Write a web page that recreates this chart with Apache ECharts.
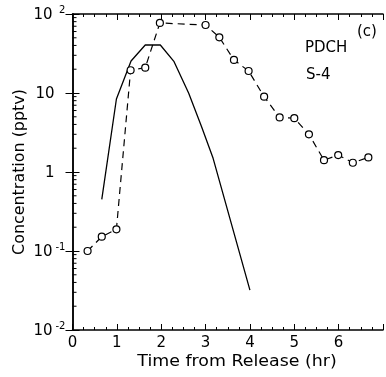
<!DOCTYPE html>
<html>
<head>
<meta charset="utf-8">
<script src="https://cdn.jsdelivr.net/npm/echarts@6/dist/echarts.min.js"></script>
<style>
html,body{margin:0;padding:0;background:#fff;}
#c{width:386px;height:377px;}
</style>
</head>
<body>
<div id="c"></div>
<script>
// Observed (dashed with circles)
const timeObs = [0.34, 0.66, 0.99, 1.31, 1.64, 1.97, 3.00, 3.31, 3.64, 3.97, 4.32, 4.67, 5.00, 5.33, 5.67, 5.99, 6.32, 6.67];
const concObs = [0.100, 0.152, 0.188, 19.4, 20.9, 77, 72.6, 50.7, 26.2, 19.0, 8.98, 4.9, 4.8, 3.0, 1.41, 1.64, 1.31, 1.53];
// Model (solid)
const timeModel = [0.66, 0.99, 1.32, 1.64, 1.98, 2.29, 2.62, 2.91, 3.17, 4.00];
const concModel = [0.45, 8.4, 25.4, 40.5, 40.5, 24.9, 9.9, 3.74, 1.49, 0.032];
// Axis ticks
const xTickLabels = ['0', '1', '2', '3', '4', '5', '6'];
const yDecades = [0.01, 0.1, 1, 10, 100];
const yMinorMantissas = [2, 3, 4, 5, 6, 7, 8, 9];
const xTitle = 'Time from Release (hr)';
const yTitle = 'Concentration (pptv)';
const annotations = ['(c)', 'PDCH', 'S-4'];

const FONT = 'DejaVu Sans';
const chart = echarts.init(document.getElementById('c'));

const minorVals = [];
yDecades.slice(0, -1).forEach(d => yMinorMantissas.forEach(m => minorVals.push([0, m * d])));

function yLabel(v) {
  const e = Math.round(Math.log10(v));
  if (e === 0) return '{b|1}{p|}';
  if (e === 1) return '{b|10}{p|}';
  const sup = e < 0 ? '-' + (-e) : ' ' + e;
  return '{b|10}{s|' + sup + '}';
}

const xAxisCommon = {
  type: 'value', min: 0, max: 7, interval: 1,
  axisLine: { show: true, lineStyle: { color: '#000', width: 1.5 } },
  axisTick: { show: true, inside: true, length: 6, lineStyle: { color: '#000', width: 1 } },
  minorTick: { show: true, splitNumber: 4, length: 3, lineStyle: { color: '#000', width: 1 } },
  splitLine: { show: false }, minorSplitLine: { show: false }
};

chart.setOption({
  animation: false,
  backgroundColor: '#fff',
  grid: { left: 72.5, top: 14, bottom: 47, right: -5 },
  xAxis: [
    Object.assign({}, xAxisCommon, {
      position: 'bottom',
      axisLabel: { show: true, margin: 6, fontFamily: FONT, fontSize: 15, color: '#000',
        formatter: v => (v < xTickLabels.length ? xTickLabels[v] : '') }
    }),
    Object.assign({}, xAxisCommon, { position: 'top', axisLabel: { show: false } })
  ],
  yAxis: [
    {
      type: 'log', logBase: 10, min: 0.01, max: 100, position: 'left',
      axisLine: { show: true, lineStyle: { color: '#000', width: 1.5 } },
      axisTick: { show: true, inside: true, length: 7, lineStyle: { color: '#000', width: 1 } },
      splitLine: { show: false },
      axisLabel: {
        show: true, margin: 6, color: '#000', formatter: yLabel,
        rich: {
          b: { fontFamily: FONT, fontSize: 15, color: '#000', lineHeight: 18, verticalAlign: 'bottom' },
          s: { fontFamily: FONT, fontSize: 10, color: '#000', width: 12, verticalAlign: 'top', align: 'left', padding: [0, 0, 0, 2] },
          p: { width: 12 }
        }
      }
    },
    {
      type: 'log', logBase: 10, min: 0.01, max: 100, position: 'right',
      axisLine: { show: true, lineStyle: { color: '#000', width: 1.5 } },
      axisTick: { show: true, inside: true, length: 7, lineStyle: { color: '#000', width: 1 } },
      axisLabel: { show: false }, splitLine: { show: false }
    }
  ],
  series: [
    {
      type: 'line', xAxisIndex: 0, yAxisIndex: 0,
      data: timeModel.map((t, i) => [t, concModel[i]]),
      showSymbol: false, symbol: 'none',
      lineStyle: { color: '#000', width: 1.3 }
    },
    {
      type: 'line', xAxisIndex: 0, yAxisIndex: 0,
      data: timeObs.map((t, i) => [t, concObs[i]]),
      symbol: 'circle', symbolSize: 7, showSymbol: true,
      itemStyle: { color: '#fff', borderColor: '#000', borderWidth: 1.2 },
      lineStyle: { color: '#000', width: 1.2, type: [7, 5] }
    },
    {
      type: 'custom', xAxisIndex: 0, yAxisIndex: 0, silent: true, clip: false,
      data: minorVals,
      renderItem: function (params, api) {
        const p = api.coord([0, api.value(1)]);
        return { type: 'line', shape: { x1: p[0], y1: p[1], x2: p[0] + 4, y2: p[1] },
          style: { stroke: '#000', lineWidth: 1 } };
      }
    }
  ],
  graphic: [
    { type: 'text', x: 237, y: 362, scaleX: 1.16, style: { text: xTitle, font: '15px "DejaVu Sans"', fill: '#000', align: 'center', verticalAlign: 'middle' } },
    { type: 'text', x: 20, y: 172, rotation: Math.PI / 2, scaleX: 1.06, style: { text: yTitle, font: '15px "DejaVu Sans"', fill: '#000', align: 'center', verticalAlign: 'middle' } },
    { type: 'text', left: 357, top: 25, style: { text: annotations[0], font: '15px "DejaVu Sans"', fill: '#000' } },
    { type: 'text', left: 305, top: 41, style: { text: annotations[1], font: '15px "DejaVu Sans"', fill: '#000' } },
    { type: 'text', left: 306, top: 68, style: { text: annotations[2], font: '15px "DejaVu Sans"', fill: '#000' } }
  ]
});
</script>
</body>
</html>
